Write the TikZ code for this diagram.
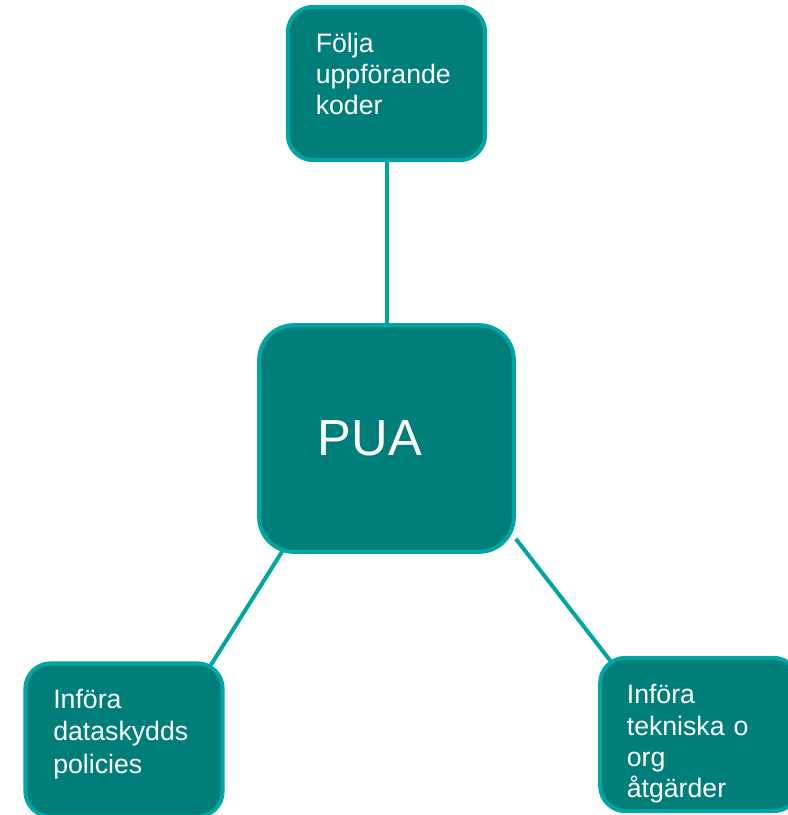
\documentclass[tikz,border=0pt]{standalone}
\usepackage{fontspec}
\setmainfont{Liberation Sans}
\usepackage{xcolor}
\usetikzlibrary{positioning,backgrounds}
\definecolor{tealfill}{HTML}{007E7A}
\definecolor{tealline}{HTML}{00A6A2}
\tikzset{
  leafbox/.style={
    rectangle, rounded corners=19pt, draw=tealline, fill=tealfill,
    line width=3pt, text=white, font=\fontsize{20}{23.5}\selectfont,
    align=left, text width=#1, inner xsep=21pt, inner ysep=4pt,
    minimum height=115pt, text height=15pt
  },
  leafbox/.default=106pt,
  hubbox/.style={
    rectangle, rounded corners=26pt, draw=tealline, fill=tealfill,
    line width=3pt, text=white, font=\fontsize{38}{44}\selectfont,
    align=left, text width=103pt, inner xsep=44pt,
    minimum height=170pt
  },
  linkline/.style={
    line width=3pt, color=tealline
  },
}
\begin{document}
\begin{tikzpicture}[x=0.75pt, y=-0.75pt]
  \useasboundingbox (0,0) rectangle (788,815);
  % centre
  \node[hubbox] at (386.5,438.5) (pua) {PUA};
  % leaves
  \node[leafbox, text depth=62pt] at (386.5,83.5) (kod) {Följa\\uppförande\\koder};
  \node[leafbox, text depth=63pt, font=\fontsize{20}{24.5}\selectfont] at (124,740) (pol) {Införa\\dataskydds\\policies};
  \node[leafbox=109pt, inner xsep=20pt, text depth=61pt] at (699.5,734.5) (atg) {Införa\\tekniska o\\org\\åtgärder};
  % links
  \begin{scope}[on background layer]
    \draw[linkline] (kod) -- (pua);
    \draw[linkline] ([xshift=26*0.75pt, yshift=4*0.75pt]pua.south west) -- ([xshift=-14*0.75pt, yshift=-4*0.75pt]pol.north east);
    \draw[linkline] ([yshift=15*0.75pt]pua.south east) -- ([xshift=13*0.75pt, yshift=-6*0.75pt]atg.north west);
  \end{scope}
\end{tikzpicture}
\end{document}
